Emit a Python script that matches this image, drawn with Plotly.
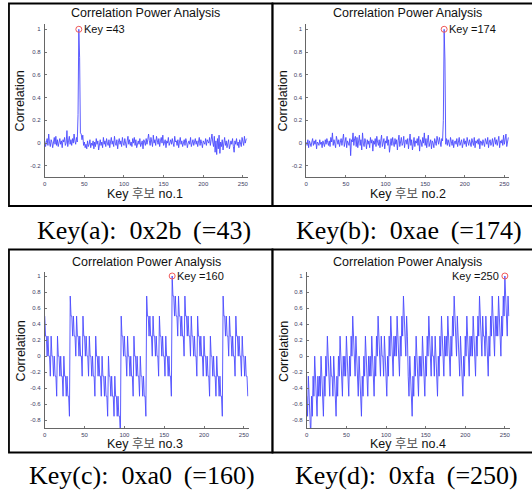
import plotly.graph_objects as go

W, H = 532, 490

# ---------------- data ----------------
keys = list(range(256))

corr_a = [
    0.02, -0.03, 0.01, 0.04, -0.02, 0.08, 0.00, -0.03, 0.03, 0.01, -0.04, 0.02, 0.05, -0.01, 0.06, -0.02,
    0.03, -0.03, 0.00, 0.04, -0.01, 0.02, -0.04, 0.03, 0.01, 0.05, -0.02, 0.00, 0.11, -0.03, 0.02, 0.06,
    -0.01, 0.03, -0.02, 0.04, 0.00, 0.08, 0.02, -0.01, 0.05, 0.01, 0.25, 1.00, 0.75, 0.09, 0.08, 0.03,
    0.07, -0.02, 0.01, -0.04, -0.01, -0.05, 0.02, -0.03, -0.01, 0.03, -0.04, 0.00, -0.02, 0.02, -0.05, 0.01,
    -0.03, 0.04, -0.01, 0.02, -0.06, 0.00, 0.03, -0.02, 0.01, -0.04, 0.05, -0.01, 0.02, -0.03, 0.04, 0.00,
    -0.02, 0.03, -0.04, 0.01, 0.05, -0.01, 0.02, -0.03, 0.06, 0.00, -0.02, 0.03, -0.05, 0.01, 0.04, -0.01,
    0.02, -0.03, 0.05, 0.00, -0.02, 0.04, 0.01, -0.04, 0.02, 0.06, -0.01, 0.03, -0.02, 0.01, -0.03, 0.04,
    0.00, 0.05, -0.02, 0.03, -0.04, 0.01, 0.02, -0.01, 0.04, -0.03, 0.00, 0.02, -0.05, 0.03, 0.01, -0.02,
    0.04, -0.01, 0.03, 0.08, 0.02, -0.02, 0.05, 0.01, -0.03, 0.07, 0.00, 0.03, -0.02, 0.06, 0.01, -0.01,
    0.04, -0.03, 0.02, 0.05, 0.00, 0.07, -0.02, 0.01, 0.03, -0.04, 0.02, 0.00, 0.05, -0.02, 0.01, 0.03,
    -0.01, 0.04, 0.00, -0.03, 0.06, 0.01, 0.02, -0.02, 0.03, -0.04, 0.01, 0.05, -0.01, 0.02, -0.03, 0.00,
    0.03, -0.02, 0.04, 0.01, -0.04, 0.00, 0.02, -0.01, 0.05, -0.03, 0.01, 0.03, -0.02, 0.00, 0.04, -0.01,
    0.02, -0.03, 0.01, 0.05, -0.02, 0.03, 0.00, -0.04, 0.02, 0.01, -0.01, 0.04, -0.02, 0.03, 0.01, 0.00,
    0.05, -0.02, 0.03, 0.08, 0.01, -0.03, 0.06, -0.08, 0.02, -0.10, 0.04, -0.05, 0.07, -0.09, 0.01, -0.03,
    0.03, -0.06, 0.00, 0.05, -0.02, 0.02, -0.04, 0.01, 0.03, -0.05, 0.00, 0.02, -0.01, 0.04, -0.03, -0.08,
    0.02, -0.01, 0.04, -0.02, 0.01, -0.04, 0.03, 0.00, -0.03, 0.05, 0.01, -0.02, 0.06, 0.00, 0.03, 0.04,
]

corr_b = [
    0.01, -0.02, 0.03, -0.04, 0.02, 0.00, -0.03, 0.01, 0.04, -0.02, 0.02, -0.01, 0.03, -0.05, 0.01, 0.00,
    -0.02, 0.03, -0.01, 0.01, -0.04, 0.02, 0.00, -0.03, 0.03, -0.01, 0.04, 0.00, -0.02, 0.02, -0.03, 0.05,
    0.01, 0.09, -0.02, 0.03, 0.00, -0.04, 0.06, 0.02, -0.01, 0.03, -0.03, 0.01, 0.04, -0.02, 0.02, 0.08,
    -0.03, 0.01, 0.05, -0.04, 0.02, 0.00, -0.02, 0.04, -0.11, 0.03, 0.01, 0.09, -0.02, 0.04, 0.06, -0.03,
    0.05, -0.04, 0.01, 0.07, -0.02, 0.03, -0.06, 0.09, 0.00, -0.03, 0.04, 0.01, -0.05, 0.03, -0.01, 0.02,
    -0.04, 0.05, 0.00, 0.03, -0.07, 0.02, -0.01, 0.04, -0.03, 0.06, 0.01, -0.02, 0.03, -0.04, 0.02, 0.07,
    -0.03, 0.01, 0.04, -0.05, 0.02, 0.00, 0.06, -0.02, 0.03, -0.08, 0.01, 0.04, -0.02, 0.05, 0.00, -0.03,
    0.04, -0.01, 0.03, -0.06, 0.02, 0.07, -0.03, 0.01, 0.05, -0.02, 0.00, 0.06, -0.04, 0.02, 0.03, -0.01,
    0.04, -0.05, 0.02, 0.08, -0.02, 0.03, -0.06, 0.01, 0.05, -0.03, 0.02, 0.00, 0.04, -0.02, 0.06, -0.07,
    0.03, 0.01, -0.03, 0.05, 0.00, 0.09, -0.02, 0.04, -0.04, 0.02, 0.07, -0.03, 0.01, 0.03, -0.05, 0.02,
    0.00, -0.04, 0.04, 0.01, -0.02, 0.06, 0.03, -0.01, 0.05, 0.00, -0.03, 0.04, 0.02, 0.20, 1.00, 0.73,
    -0.01, 0.04, -0.02, 0.03, 0.01, -0.03, 0.05, 0.00, -0.02, 0.03, -0.04, 0.01, 0.02, -0.01, 0.04, -0.03,
    0.02, 0.05, -0.02, 0.01, 0.03, -0.04, 0.00, 0.04, -0.01, 0.02, -0.03, 0.05, 0.01, -0.02, 0.03, 0.00,
    -0.03, 0.04, 0.01, -0.02, 0.05, -0.04, 0.02, 0.00, 0.03, -0.01, 0.04, -0.05, 0.02, 0.01, -0.02, 0.03,
    0.00, -0.03, 0.04, 0.02, -0.01, 0.05, -0.04, 0.01, 0.03, -0.02, 0.00, 0.04, -0.03, 0.02, 0.05, -0.01,
    0.03, -0.02, 0.01, 0.06, -0.04, 0.02, 0.00, 0.03, -0.02, 0.07, -0.01, 0.04, 0.08, -0.03, 0.02, 0.05,
]

corr_c = [
    .5, .25, .25, 0, .25, 0, 0, -.25, .25, 0, 0, -.25, 0, -.25, -.25, -.5,
    .25, 0, 0, -.25, 0, -.25, -.25, -.5, 0, -.25, -.25, -.5, -.25, -.5, -.5, -.75,
    .75, .5, .5, .25, .5, .25, .25, 0, .5, .25, .25, 0, .25, 0, 0, -.25,
    .5, .25, .25, 0, .25, 0, 0, -.25, .25, 0, 0, -.25, 0, -.25, -.25, -.5,
    .25, 0, 0, -.25, 0, -.25, -.25, -.5, 0, -.25, -.25, -.5, -.25, -.5, -.5, -.75,
    0, -.25, -.25, -.5, -.25, -.5, -.5, -.75, -.25, -.5, -.5, -.75, -.5, -.75, -.75, -1,
    .5, .25, .25, 0, .25, 0, 0, -.25, .25, 0, 0, -.25, 0, -.25, -.25, -.5,
    .25, 0, 0, -.25, 0, -.25, -.25, -.5, 0, -.25, -.25, -.5, -.25, -.5, -.5, -.75,
    .75, .5, .5, .25, .5, .25, .25, 0, .5, .25, .25, 0, .25, 0, 0, -.25,
    .5, .25, .25, 0, .25, 0, 0, -.25, .25, 0, 0, -.25, 0, -.25, -.25, -.5,
    1, .75, .75, .5, .75, .5, .5, .25, .75, .5, .5, .25, .5, .25, .25, 0,
    .75, .5, .5, .25, .5, .25, .25, 0, .5, .25, .25, 0, .25, 0, 0, -.25,
    .5, .25, .25, 0, .25, 0, 0, -.25, .25, 0, 0, -.25, 0, -.25, -.25, -.5,
    .25, 0, 0, -.25, 0, -.25, -.25, -.5, 0, -.25, -.25, -.5, -.25, -.5, -.5, -.75,
    .75, .5, .5, .25, .5, .25, .25, 0, .5, .25, .25, 0, .25, 0, 0, -.25,
    .5, .25, .25, 0, .25, 0, 0, -.25, .25, 0, 0, -.25, 0, -.25, -.25, -.5,
]

corr_d = [
    -.5, -.75, -.25, -.5, -.75, -1, -.5, -.75, -.25, -.5, 0, -.25, -.5, -.75, -.25, -.5,
    -.25, -.5, 0, -.25, -.5, -.75, -.25, -.5, 0, -.25, .25, 0, -.25, -.5, 0, -.25,
    -.25, -.5, 0, -.25, -.5, -.75, -.25, -.5, 0, -.25, .25, 0, -.25, -.5, 0, -.25,
    0, -.25, .25, 0, -.25, -.5, 0, -.25, .25, 0, .5, .25, 0, -.25, .25, 0,
    -.25, -.5, 0, -.25, -.5, -.75, -.25, -.5, 0, -.25, .25, 0, -.25, -.5, 0, -.25,
    0, -.25, .25, 0, -.25, -.5, 0, -.25, .25, 0, .5, .25, 0, -.25, .25, 0,
    0, -.25, .25, 0, -.25, -.5, 0, -.25, .25, 0, .5, .25, 0, -.25, .25, 0,
    .25, 0, .5, .25, 0, -.25, .25, 0, .5, .25, .75, .5, .25, 0, .5, .25,
    -.25, -.5, 0, -.25, -.5, -.75, -.25, -.5, 0, -.25, .25, 0, -.25, -.5, 0, -.25,
    0, -.25, .25, 0, -.25, -.5, 0, -.25, .25, 0, .5, .25, 0, -.25, .25, 0,
    0, -.25, .25, 0, -.25, -.5, 0, -.25, .25, 0, .5, .25, 0, -.25, .25, 0,
    .25, 0, .5, .25, 0, -.25, .25, 0, .5, .25, .75, .5, .25, 0, .5, .25,
    0, -.25, .25, 0, -.25, -.5, 0, -.25, .25, 0, .5, .25, 0, -.25, .25, 0,
    .25, 0, .5, .25, 0, -.25, .25, 0, .5, .25, .75, .5, .25, 0, .5, .25,
    .25, 0, .5, .25, 0, -.25, .25, 0, .5, .25, .75, .5, .25, 0, .5, .25,
    .5, .25, .75, .5, .25, 0, .5, .25, .75, .5, 1, .75, .5, .25, .75, .5,
]

series = [corr_a, corr_b, corr_c, corr_d]
best_keys = [43, 174, 160, 250]
x_labels = ["Key <span style='color:#555'>후보</span> no.1",
            "Key <span style='color:#555'>후보</span> no.2",
            "Key <span style='color:#555'>후보</span> no.3",
            "Key <span style='color:#555'>후보</span> no.4"]
captions = ["Key(a):\u00a0 0x2b\u2009 (=43)", "Key(b):\u00a0 0xae\u2009 (=174)",
            "Key(c):\u00a0 0xa0\u2009 (=160)", "Key(d):\u00a0 0xfa\u2009 (=250)"]
title_text = "Correlation Power Analysis"
y_title = "Correlation"

x_tickvals = [0, 50, 100, 150, 200, 250]
x_ticktext = ["0", "50", "100", "150", "200", "250"]
y_tickvals_top = [-0.2, 0, 0.2, 0.4, 0.6, 0.8, 1]
y_ticktext_top = ["-0.2", "0", "0.2", "0.4", "0.6", "0.8", "1"]
y_tickvals_bot = [-0.8, -0.6, -0.4, -0.2, 0, 0.2, 0.4, 0.6, 0.8, 1]
y_ticktext_bot = ["-0.8", "-0.6", "-0.4", "-0.2", "0", "0.2", "0.4", "0.6", "0.8", "1"]

# ---------------- layout helpers (pixel geometry) ----------------
def px(x):
    return x / W

def py(y):
    return 1 - y / H

# plot areas in pixels: (left, right, top, bottom)
areas = [
    (43, 247, 23.6, 177.3),
    (306, 510, 23.6, 177.3),
    (43, 248, 272, 428.3),
    (306.5, 510.5, 272, 428.3),
]
yranges = [[-0.3, 1.05], [-0.3, 1.05], [-0.9, 1.05], [-0.9, 1.05]]
frames = [(7, 272, 3.5, 206), (272, 545, 3.5, 206), (7, 272, 249.5, 452.5), (272, 545, 249.5, 452.5)]
title_pos = [(144, 13), (408, 13), (145, 261.7), (408, 261.7)]
xlab_pos = [(144, 194), (408, 194), (144, 444), (408, 444)]
ylab_pos = [(18.5, 101), (283, 101), (19.5, 351), (283.5, 351)]
cap_pos = [(142.5, 230), (409, 230), (141, 475), (407, 475)]

LINE = "rgb(75,75,255)"
MARK = "rgb(240,90,90)"
TICKC = "#3c3c64"
SANS = "Arial, 'Liberation Sans', 'Noto Sans CJK KR', sans-serif"
SERIF = "'Liberation Serif', 'Times New Roman', serif"

fig = go.Figure()
annotations = []
shapes = []
layout_axes = {}

for i in range(4):
    n = "" if i == 0 else str(i + 1)
    xa, ya = "x" + n, "y" + n
    ys = series[i]
    fig.add_trace(go.Scatter(x=keys, y=ys, mode="lines", xaxis=xa, yaxis=ya,
                             line=dict(color=LINE, width=0.9), showlegend=False,
                             hoverinfo="skip"))
    k = best_keys[i]
    fig.add_trace(go.Scatter(x=[keys[k]], y=[ys[k]], mode="markers", xaxis=xa, yaxis=ya,
                             marker=dict(symbol="circle-open", size=6, color=MARK,
                                         line=dict(color=MARK, width=1)),
                             showlegend=False, hoverinfo="skip", cliponaxis=False))
    l, r, t, b = areas[i]
    top = i < 2
    layout_axes["xaxis" + n] = dict(
        domain=[px(l), px(r)], range=[0, 256], anchor=ya,
        tickvals=x_tickvals, ticktext=x_ticktext,
        ticks="inside", ticklen=2, tickcolor="#777", showline=True,
        linecolor="#666", linewidth=1, showgrid=False, zeroline=False,
        tickfont=dict(size=6, color=TICKC, family=SANS), fixedrange=True)
    layout_axes["yaxis" + n] = dict(
        domain=[py(b), py(t)], range=yranges[i], anchor=xa,
        tickvals=y_tickvals_top if top else y_tickvals_bot,
        ticktext=y_ticktext_top if top else y_ticktext_bot,
        ticks="inside", ticklen=2, tickcolor="#777", showline=True,
        linecolor="#666", linewidth=1, showgrid=False, zeroline=False,
        ticklabelstandoff=2,
        tickfont=dict(size=6, color=TICKC, family=SANS), fixedrange=True)
    # key annotation
    if i == 3:
        annotations.append(dict(x=keys[k], y=ys[k], xref=xa, yref=ya, text="Key =%d" % k,
                                showarrow=False, xanchor="right", yanchor="middle", xshift=-4,
                                font=dict(size=11, color="#111", family=SANS)))
    else:
        annotations.append(dict(x=keys[k], y=ys[k], xref=xa, yref=ya, text="Key =%d" % k,
                                showarrow=False, xanchor="left", yanchor="middle", xshift=3,
                                font=dict(size=11, color="#111", family=SANS)))
    # title, labels, caption
    tx, ty = title_pos[i]
    annotations.append(dict(x=px(tx), y=py(ty), xref="paper", yref="paper", text=title_text,
                            showarrow=False, xanchor="center", yanchor="middle",
                            font=dict(size=12.5, color="#111", family=SANS)))
    lx, ly = xlab_pos[i]
    annotations.append(dict(x=px(lx), y=py(ly), xref="paper", yref="paper", text=x_labels[i],
                            showarrow=False, xanchor="center", yanchor="middle",
                            font=dict(size=12.5, color="#111", family=SANS)))
    yx, yy = ylab_pos[i]
    annotations.append(dict(x=px(yx), y=py(yy), xref="paper", yref="paper", text=y_title,
                            showarrow=False, xanchor="center", yanchor="middle", textangle=-90,
                            font=dict(size=12.5, color="#111", family=SANS)))
    cx, cy = cap_pos[i]
    annotations.append(dict(x=px(cx), y=py(cy), xref="paper", yref="paper", text=captions[i],
                            showarrow=False, xanchor="center", yanchor="middle",
                            font=dict(size=26, color="#000", family=SERIF)))
    fx0, fx1, fy0, fy1 = frames[i]
    shapes.append(dict(type="rect", xref="paper", yref="paper",
                       x0=px(fx0), x1=px(fx1), y0=py(fy1), y1=py(fy0),
                       line=dict(color="black", width=1.8), fillcolor="rgba(0,0,0,0)"))

fig.update_layout(
    width=W, height=H, margin=dict(l=0, r=0, t=0, b=0),
    paper_bgcolor="white", plot_bgcolor="white",
    annotations=annotations, shapes=shapes, **layout_axes)

fig.write_html("out.html", config={"displayModeBar": False},
               post_script="document.body.style.margin='0';document.body.style.overflow='hidden';")
